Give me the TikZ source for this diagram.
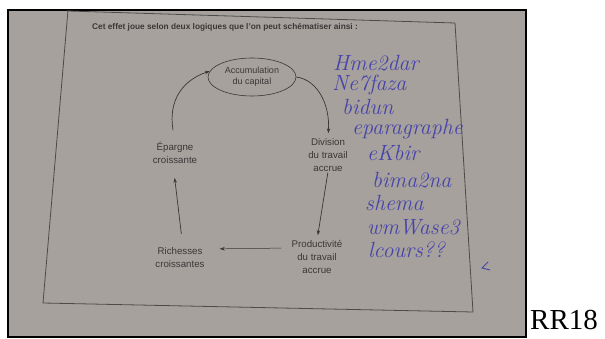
\documentclass[tikz,border=0pt]{standalone}
\usepackage{fontspec}
\setsansfont{Liberation Sans}
\newfontfamily\seriffont{Liberation Serif}
\usetikzlibrary{arrows.meta,shapes.geometric}
\definecolor{photobg}{RGB}{166,161,157}
\definecolor{printgray}{RGB}{58,55,55}
\definecolor{framegray}{RGB}{78,74,74}
\definecolor{handblue}{RGB}{70,68,170}
\tikzset{
  printtxt/.style={text=printgray,font=\sffamily\fontsize{9.7}{13}\selectfont,align=center,inner sep=0pt},
  arr/.style={draw=printgray,line width=0.7pt,-{Stealth[length=5pt,width=3.5pt]}},
  hand/.style={text=handblue,font=\rmfamily\itshape\fontsize{22}{22}\selectfont,anchor=base west,inner sep=0pt},
  paperline/.style={draw=framegray,line width=0.8pt}
}
\begin{document}
\begin{tikzpicture}[x=1pt,y=-1pt]
\useasboundingbox (0,0) rectangle (605,339);
% photo
\filldraw[fill=photobg,draw=black,line width=1.6pt] (8,10) rectangle (526,337);
% paper frame
\draw[paperline] (68,10) -- (43,303) -- (473,312) -- (455,23) -- (68,11);
% title
\node[anchor=base west,inner sep=0pt,text=printgray,font=\sffamily\bfseries\fontsize{8.3}{9}\selectfont] (title) at (92,30) {Cet effet joue selon deux logiques que l'on peut schématiser ainsi :};
% diagram
\node[printtxt,draw=printgray,line width=0.6pt,ellipse,minimum width=88pt,minimum height=38pt,font=\sffamily\fontsize{9}{11}\selectfont] (acc) at (252,77) {Accumulation\\du capital};
\node[printtxt] (div) at (328,155) {Division\\du travail\\accrue};
\node[printtxt] (prod) at (317,257) {Productivité\\du travail\\accrue};
\node[printtxt] (rich) at (180,258) {Richesses\\croissantes};
\node[printtxt] (epar) at (175,153) {Épargne\\croissante};
\draw[arr,shorten >=5pt] (acc.east) .. controls (318,80) and (330,105) .. (div.north);
\draw[arr,shorten <=1pt,shorten >=5pt] (div.south) -- (prod.north);
\draw[arr,line width=0.5pt,shorten <=10pt,shorten >=15pt] ([yshift=9pt]prod.west) -- ([yshift=9pt]rich.east);
\draw[arr,shorten <=14pt,shorten >=14pt] ([xshift=3pt]rich.north) -- ([xshift=-2pt]epar.south);
\draw[arr,shorten <=12pt] (epar.north) .. controls (168,100) and (183,80) .. (acc.172);
% handwriting
\node[hand] (h1) at (333,71) {Hme2dar};
\node[hand] (h2) at (332,91) {Ne7faza};
\node[hand] (h3) at (342,115) {bidun};
\node[hand] (h4) at (352,135) {eparagraphe};
\node[hand] (h5) at (367,161) {eKbir};
\node[hand] (h6) at (372,188) {bima2na};
\node[hand] (h7) at (365,211) {shema};
\node[hand] (h8) at (367,234) {wmWase3};
\node[hand] (h9) at (368,257) {lcours??};
\draw[handblue,line width=0.9pt,line cap=round] (488,262) -- (482,268) -- (490,270);
% caption
\node[anchor=base west,inner sep=0pt,font=\seriffont\fontsize{29}{29}\selectfont] (rr) at (530,329) {RR18};
\end{tikzpicture}
\end{document}
